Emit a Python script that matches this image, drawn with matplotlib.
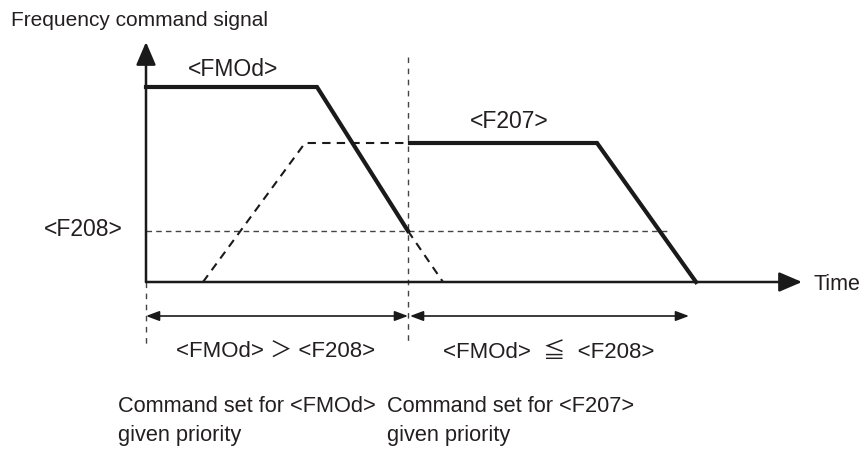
import matplotlib
matplotlib.use("Agg")
import matplotlib.pyplot as plt

plt.rcParams['font.family'] = ['Liberation Sans', 'Noto Sans CJK JP', 'DejaVu Sans']

# diagram drawn in image-like units (x to the right, y downwards)
origin = (146, 282)          # time axis / frequency axis corner
y_axis_top = 42
x_axis_end = 802

# <FMOd> command: hold then decelerate
t_fmod = [146, 317, 408]
f_fmod = [87, 87, 231]
# <F207> acceleration ramp before switch (dashed)
t_ramp = [203, 305, 408]
f_ramp = [282, 143, 143]
# <F207> command after switch
t_f207 = [410, 597, 696]
f_f207 = [143, 143, 282]
# rest of <FMOd> decel after switch (dashed)
t_tail = [408, 443]
f_tail = [231, 282]
# <F208> switching level
f208_level = 231
f208_end = 670
t_switch = 408

# span arrows
span_y = 316
spans = [(146, 408), (410, 689)]

fig = plt.figure(figsize=(8.61, 4.5), dpi=100)
ax = fig.add_axes([0, 0, 1, 1])
ax.set_xlim(0, 861)
ax.set_ylim(450, 0)
ax.axis('off')

# axes with arrows
ax.annotate('', xy=(origin[0], y_axis_top), xytext=origin,
            arrowprops=dict(arrowstyle='-|>,head_length=0.7,head_width=0.3', mutation_scale=20,
                            lw=1.8, color='#1a1a1a', shrinkA=0, shrinkB=0))
ax.annotate('', xy=(x_axis_end, origin[1]), xytext=origin,
            arrowprops=dict(arrowstyle='-|>,head_length=0.7,head_width=0.3', mutation_scale=20,
                            lw=1.8, color='#1a1a1a', shrinkA=0, shrinkB=0))

# reference lines
ax.plot([origin[0], f208_end], [f208_level, f208_level], color='#444444', lw=1.0,
        dashes=(4, 3))
ax.plot([t_switch, t_switch], [57, 345], color='#444444', lw=1.0, dashes=(4, 4))
ax.plot([origin[0], origin[0]], [origin[1], 345], color='#444444', lw=1.0, dashes=(4, 4))

# signals
ax.plot(t_fmod, f_fmod, color='#1a1a1a', lw=3, solid_joinstyle='miter')
ax.plot(t_f207, f_f207, color='#1a1a1a', lw=3, solid_joinstyle='miter')
ax.plot(t_ramp, f_ramp, color='#1a1a1a', lw=1.5, dashes=(4, 3))
ax.plot(t_tail, f_tail, color='#1a1a1a', lw=1.5, dashes=(4, 3))

# span arrows
for a, b in spans:
    ax.annotate('', xy=(b, span_y), xytext=(a, span_y),
                arrowprops=dict(arrowstyle='<|-|>,head_length=0.8,head_width=0.3', mutation_scale=10,
                                lw=1.2, color='#1a1a1a', shrinkA=0, shrinkB=0))

c = '#231f20'
ax.text(11, 20, 'Frequency command signal', fontsize=15, color=c, ha='left', va='center')
ax.text(233, 70, '<FMOd>', fontsize=16.5, color=c, ha='center', va='center')
ax.text(509, 121, '<F207>', fontsize=16.5, color=c, ha='center', va='center')
ax.text(123, 230, '<F208>', fontsize=16.5, color=c, ha='right', va='center')
ax.text(813, 284, 'Time', fontsize=15.5, color=c, ha='left', va='center')
ax.text(276, 352, '<FMOd> ＞ <F208>', fontsize=16, color=c, ha='center', va='center')
ax.text(549, 352, '<FMOd>  ≦  <F208>', fontsize=16, color=c, ha='center', va='center')
ax.text(118, 412, 'Command set for <FMOd>', fontsize=15.7, color=c, ha='left', va='baseline')
ax.text(118, 441, 'given priority', fontsize=15.7, color=c, ha='left', va='baseline')
ax.text(387, 412, 'Command set for <F207>', fontsize=15.7, color=c, ha='left', va='baseline')
ax.text(387, 441, 'given priority', fontsize=15.7, color=c, ha='left', va='baseline')

fig.savefig('out.png', dpi=100)
